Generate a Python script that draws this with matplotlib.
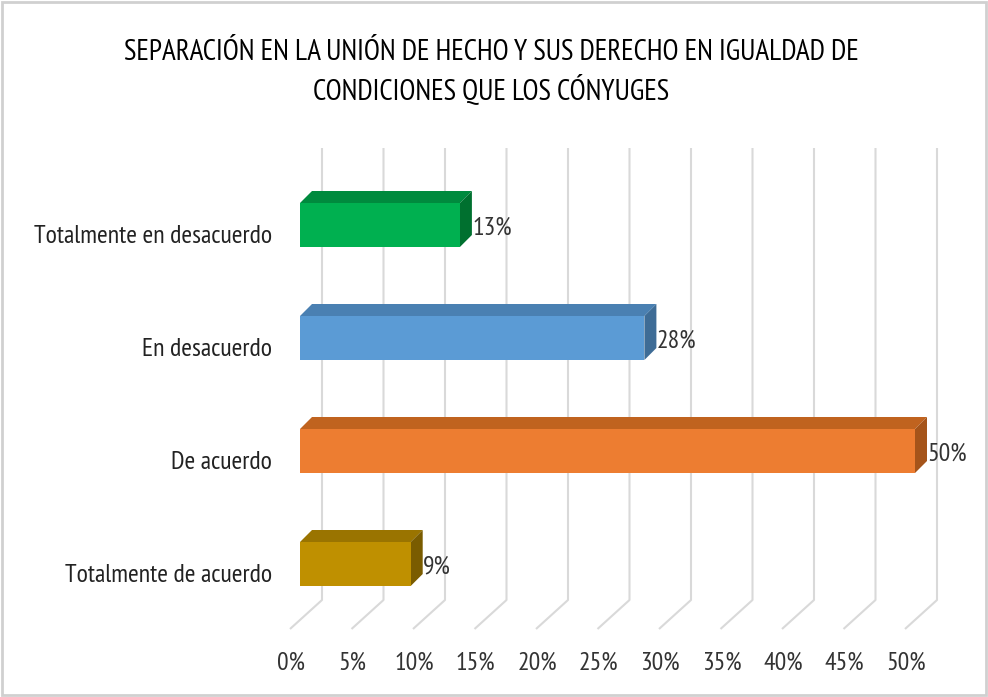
import matplotlib
matplotlib.use("Agg")
import matplotlib.pyplot as plt
from matplotlib.patches import Polygon, Rectangle

plt.rcParams['font.family'] = ['PT Sans Narrow', 'DejaVu Sans']

title_lines = ["SEPARACIÓN EN LA UNIÓN DE HECHO Y SUS DERECHO EN IGUALDAD DE",
               "CONDICIONES QUE LOS CÓNYUGES"]
categories = ["Totalmente en desacuerdo", "En desacuerdo", "De acuerdo", "Totalmente de acuerdo"]
values = [13, 28, 50, 9]
labels = ["13%", "28%", "50%", "9%"]
ticks = [0, 5, 10, 15, 20, 25, 30, 35, 40, 45, 50]
tick_labels = [f"{t}%" for t in ticks]

front = ["#00B050", "#5B9BD5", "#ED7D31", "#BF9000"]
top = ["#008A3E", "#4A80B2", "#C0631F", "#9A7400"]
side = ["#00702F", "#3E6C96", "#A5541A", "#7A5C00"]

# px per percent and px per category step
sx, sy = 12.3, 113.0
x0px, y0px = 300, 225

fig = plt.figure(figsize=(9.88, 6.97), dpi=100)
ax = fig.add_axes([0, 0, 1, 1])
ax.set_xlim((0 - x0px) / sx, (988 - x0px) / sx)
ax.set_ylim((697 - y0px) / sy, (0 - y0px) / sy)
ax.axis('off')

# perspective gridlines (back wall + floor)
gdx = 22 / sx
g_top = (148 - y0px) / sy
g_bot = (600 - y0px) / sy
f_dx = -32 / sx
f_dy = 29 / sy
for t, tl in zip(ticks, tick_labels):
    xb = t + gdx
    ax.plot([xb, xb, xb + f_dx], [g_top, g_bot, g_bot + f_dy],
            color="#d9d9d9", lw=1.5, zorder=1, solid_capstyle='butt')
    ax.text(xb + f_dx + 0.1, (663 - y0px) / sy, tl, ha='center', va='center',
            fontsize=18.5, color="#333333")

# 3D bars
h = 44 / sy
ddx = 12 / sx
ddy = 12 / sy
for i, (v, lab) in enumerate(zip(values, labels)):
    yt = i - h / 2
    yb = i + h / 2
    ax.add_patch(Polygon([(0, yt), (v, yt), (v + ddx, yt - ddy), (ddx, yt - ddy)],
                         closed=True, fc=top[i], ec='none', zorder=3))
    ax.add_patch(Polygon([(v, yt), (v + ddx, yt - ddy), (v + ddx, yb - ddy), (v, yb)],
                         closed=True, fc=side[i], ec='none', zorder=3))
    ax.add_patch(Rectangle((0, yt), v, h, fc=front[i], ec='none', zorder=4))
    ax.text(v + ddx + 0.05, i + 0.03, lab, ha='left', va='center',
            fontsize=18.5, color="#333333", zorder=5)
    ax.text((272 - x0px) / sx, i + 0.1, categories[i], ha='right', va='center',
            fontsize=18.6, color="#222222")

fig.text(0.497, 1 - 52 / 697, title_lines[0], ha='center', va='center', fontsize=21, color="#000000")
fig.text(0.497, 1 - 90 / 697, title_lines[1], ha='center', va='center', fontsize=21, color="#000000")

fig.add_artist(Rectangle((2 / 988, 2 / 697), 984 / 988, 693 / 697, transform=fig.transFigure,
                         fill=False, ec="#d0d0d0", lw=2))

fig.savefig("out.png", dpi=100)
